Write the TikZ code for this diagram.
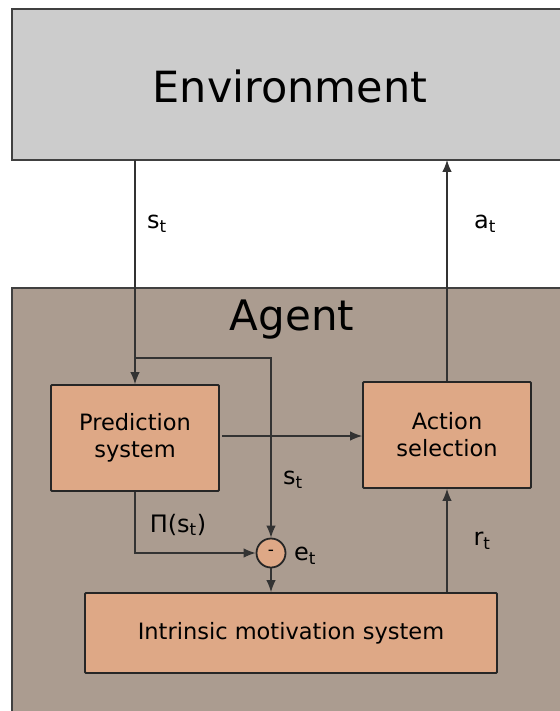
\documentclass[tikz,border=0pt]{standalone}
\usepackage{fontspec}
\setmainfont{DejaVu Sans}
\usetikzlibrary{arrows.meta}
\definecolor{envfill}{HTML}{CCCCCC}
\definecolor{agentfill}{HTML}{AB9C90}
\definecolor{boxfill}{HTML}{DEA886}
\definecolor{wire}{HTML}{333333}
\begin{document}
\begin{tikzpicture}[x=1pt,y=-1pt,
  panel/.style={draw=black!75,line width=1.2pt},
  block/.style={draw=black!85,fill=boxfill,line width=1.8pt,rounded corners=1pt,
    align=center,font=\fontsize{22.5}{27}\selectfont,inner sep=0pt},
  wirestyle/.style={draw=wire,line width=1.1pt},
  arr/.style={wirestyle,-{Latex[length=12pt,width=9.5pt]}},
  lbl/.style={font=\fontsize{24}{28}\selectfont,inner sep=0pt}]
\useasboundingbox (0,0) rectangle (559,711);
% environment and agent panels
\fill[white] (0,0) rectangle (559,711);
\path[panel,fill=envfill] (12,9) rectangle (575,160);
\node[font=\fontsize{43}{50}\selectfont] (env) at (290,86) {Environment};
\path[panel,fill=agentfill] (12,288) rectangle (575,730);
\node[font=\fontsize{42}{50}\selectfont] (agent) at (292,320) {Agent};
% blocks
\node[block,minimum width=168pt,minimum height=106pt] (pred) at (135,438) {Prediction\\system};
\node[block,minimum width=168pt,minimum height=106pt] (act) at (447,435) {Action\\selection};
\node[block,minimum width=412pt,minimum height=80pt] (ims) at (291,633) {Intrinsic motivation system};
\node[draw=black!85,fill=boxfill,line width=1.8pt,circle,minimum size=29pt,inner sep=0pt,
  font=\fontsize{17}{18}\selectfont] (diff) at (271,553) {-};
% coordinates on the wires
\coordinate (sin) at (135,160);
\coordinate (split) at (135,358);
\coordinate (turn) at (271,358);
\coordinate (aout) at (447,160);
\coordinate (pdown) at (135,553);
\coordinate (pout) at (222,436);
% connectors
\draw[arr] (sin) -- (pred.north);
\draw[arr] (split) -- (turn) -- (diff.north);
\draw[arr] (pout) -- (pout -| act.west);
\draw[arr] (pred.south) -- (pdown) -- (diff.west);
\draw[arr] (diff.south) -- (diff.south |- ims.north);
\draw[arr] (act.south |- ims.north) -- (act.south);
\draw[arr] (act.north) -- (aout);
% labels
\node[lbl] (l1) at (157,224) {s\textsubscript{t}};
\node[lbl] (l2) at (485,224) {a\textsubscript{t}};
\node[lbl] (l3) at (293,480) {s\textsubscript{t}};
\node[lbl] (l4) at (178,525) {Π(s\textsubscript{t})};
\node[lbl] (l5) at (305,556) {e\textsubscript{t}};
\node[lbl] (l6) at (482,541) {r\textsubscript{t}};
\end{tikzpicture}
\end{document}
